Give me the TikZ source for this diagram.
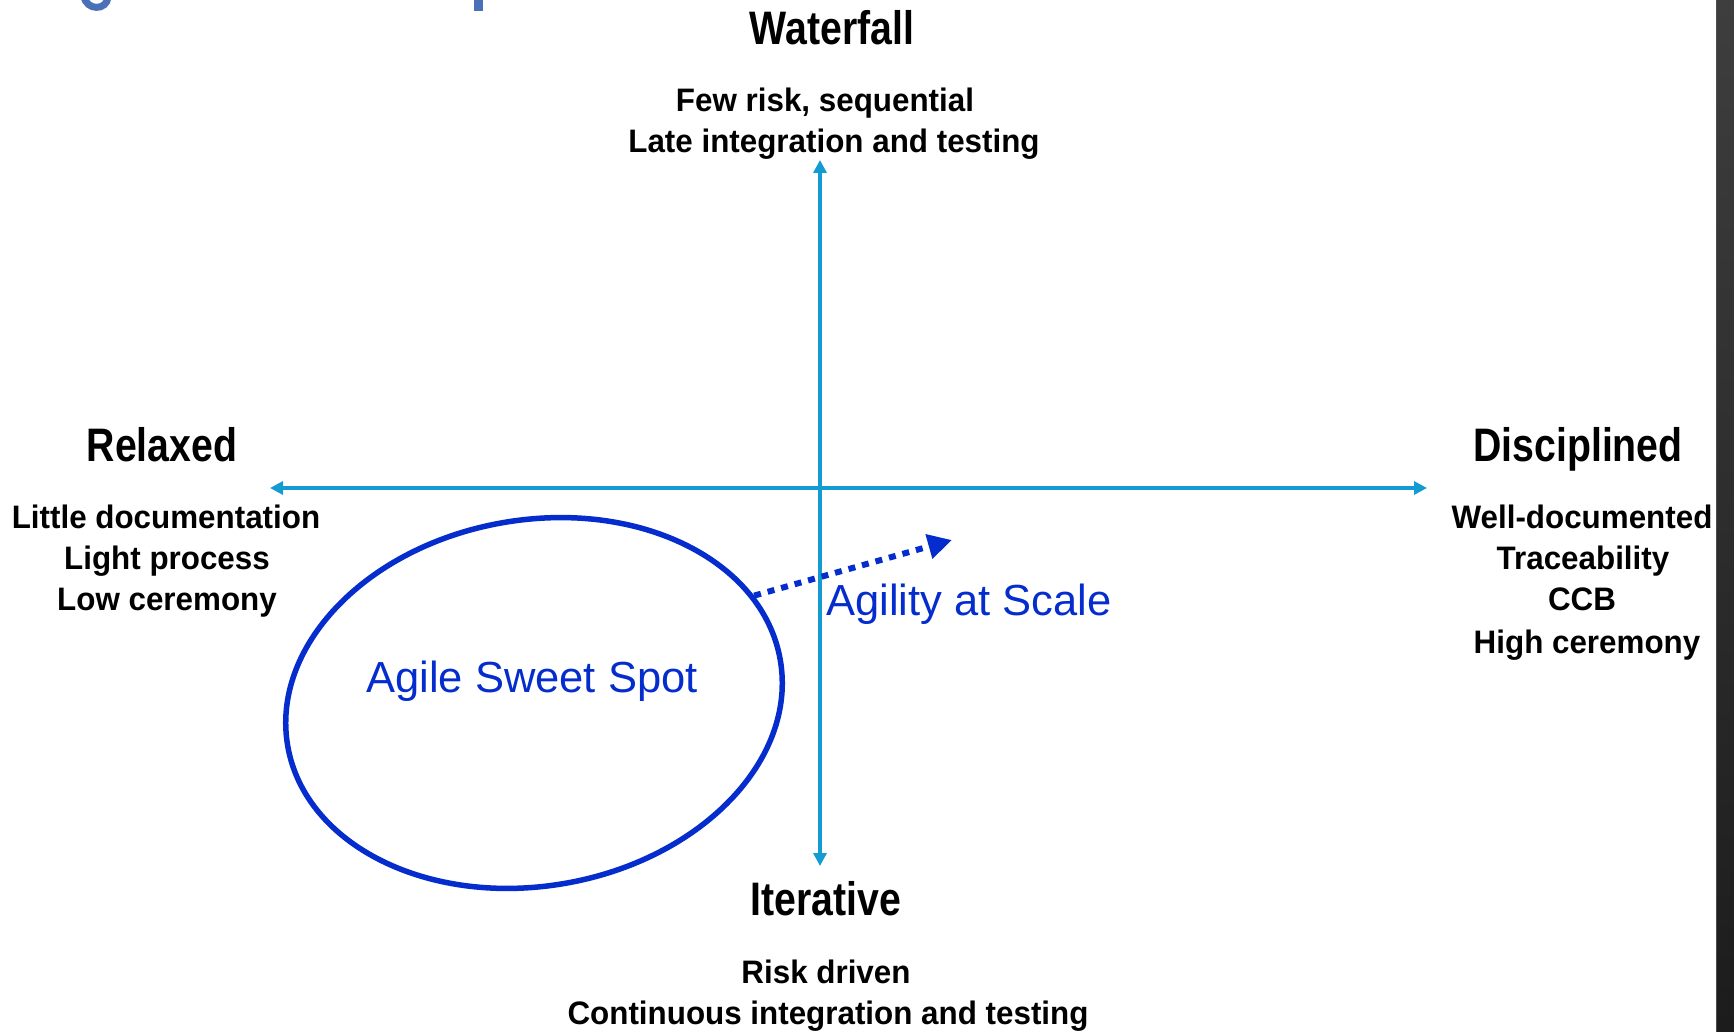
\documentclass[tikz,border=0pt]{standalone}
\usepackage{fontspec}
\setmainfont{Liberation Sans}
\newfontfamily\headfont[FakeStretch=0.835]{Liberation Sans Bold}
\newfontfamily\notefont[FakeStretch=0.965]{Liberation Sans Bold}
\usetikzlibrary{arrows.meta,shapes.geometric}
\definecolor{axisblue}{RGB}{20,155,210}
\definecolor{spotblue}{RGB}{5,45,205}
\definecolor{titleblue}{RGB}{74,112,184}
\definecolor{bandtop}{RGB}{62,62,62}
\definecolor{bandbot}{RGB}{28,28,28}

\begin{document}
\begin{tikzpicture}[x=1pt,y=-1pt,
  axis/.style={draw=axisblue, line width=3.2pt,
    {Triangle[length=13pt,width=13pt]}-{Triangle[length=13pt,width=13pt]}},
  heading/.style={font=\headfont\fontsize{47}{56}\selectfont, anchor=base, inner sep=0pt},
  note/.style={font=\notefont\fontsize{32.5}{39}\selectfont, anchor=base, inner sep=0pt},
  bluetext/.style={font=\fontsize{43.5}{52}\selectfont, text=spotblue, inner sep=0pt},
  spotline/.style={draw=spotblue, line width=5.5pt},
  scalearrow/.style={draw=spotblue, line width=6pt, dash pattern=on 7pt off 7pt,
    -{Triangle[length=24pt,width=24pt]}}]

% page and background
\path[use as bounding box] (0,0) rectangle (1734,1032);
\fill[white] (0,0) rectangle (1716,1032);
\shade[top color=bandtop, bottom color=bandbot] (1716,0) rectangle (1734,1032);
\draw[gray!60!black, line width=1pt] (1716.5,0) -- (1716.5,1032);

% bits of the slide title above
\draw[titleblue, line width=7pt] (84,-4) .. controls (86,11) and (107,11) .. (108,-3);
\fill[titleblue] (474,0) rectangle (483,11);

% axes
\coordinate (ytop) at (820,160);
\coordinate (ybot) at (820,866);
\coordinate (xleft) at (270,488);
\coordinate (xright) at (1427,488);
\draw[axis] (xleft) -- (xright);
\draw[axis] (ybot) -- (ytop);

% top
\node[heading] (waterfall) at (832,45) {Waterfall};
\node[note] (wf1) at (825,112) {Few risk, sequential};
\node[note] (wf2) at (834,153) {Late integration and testing};

% left
\node[heading] (relaxed) at (162,461) {Relaxed};
\node[note] (rl1) at (166,528) {Little documentation};
\node[note] (rl2) at (167,569) {Light process};
\node[note] (rl3) at (167,610) {Low ceremony};

% right
\node[heading] (disc) at (1578,461) {Disciplined};
\node[note] (ds1) at (1582,528) {Well-documented};
\node[note] (ds2) at (1583,569) {Traceability};
\node[note] (ds3) at (1582,610) {CCB};
\node[note] (ds4) at (1587,653) {High ceremony};

% bottom
\node[heading] (iter) at (826,915) {Iterative};
\node[note] (it1) at (826,983) {Risk driven};
\node[note] (it2) at (828,1024) {Continuous integration and testing};

% sweet spot
\node[spotline, ellipse, minimum width=500pt, minimum height=366pt,
      inner sep=0pt, rotate=10] (spot) at (534,703) {};
\node[bluetext, anchor=base] (spotlabel) at (532,692) {Agile Sweet Spot};

% towards scale
\coordinate (scaletip) at (952,540);
\draw[scalearrow] (spot.16) -- (scaletip);
\node[bluetext, anchor=base west] (scale) at (826,615) {Agility at Scale};
\end{tikzpicture}
\end{document}
